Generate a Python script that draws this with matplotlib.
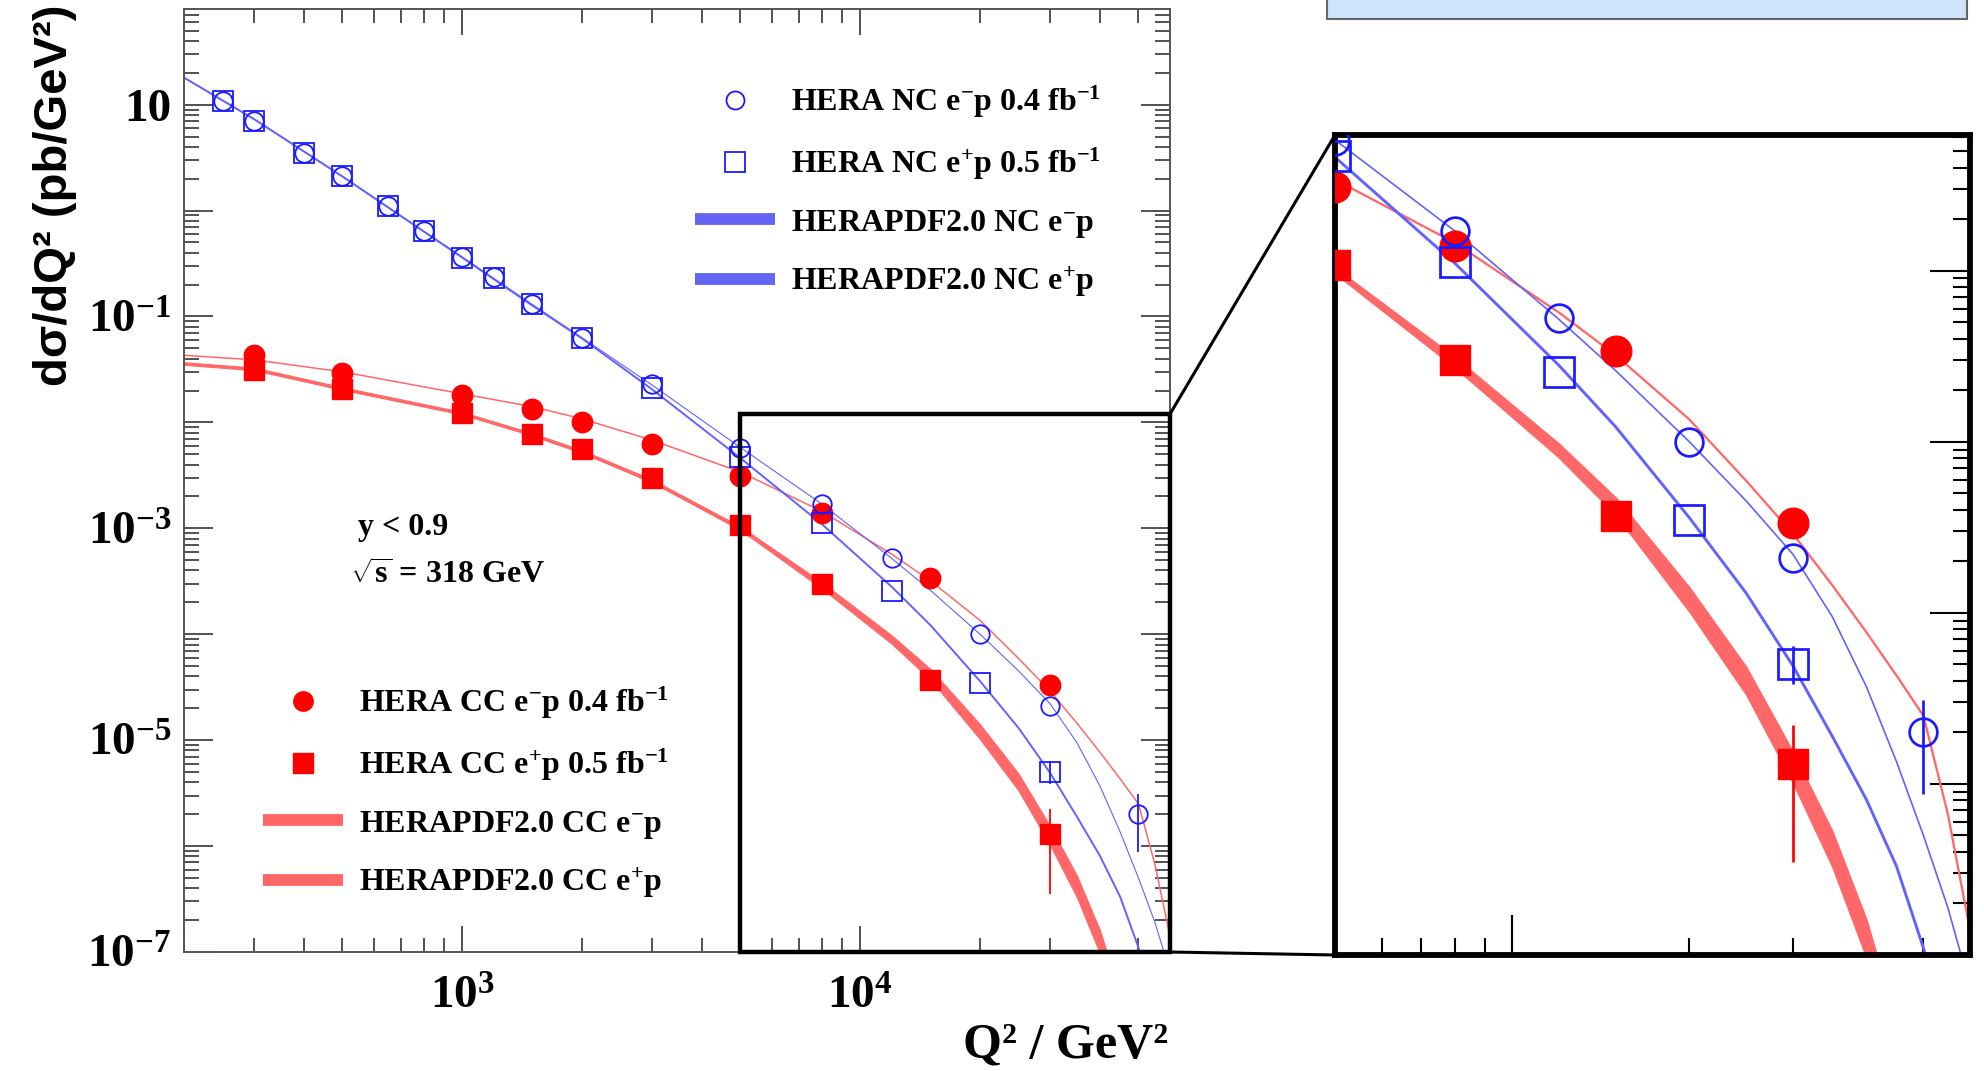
#!/usr/bin/env python3
"""HERA NC/CC dsigma/dQ2 versus Q2, with a zoomed inset of the high-Q2 region."""

import matplotlib

matplotlib.use("Agg")
import matplotlib.pyplot as plt
import numpy as np
from matplotlib.lines import Line2D
from matplotlib.patches import ConnectionPatch, Rectangle
from matplotlib.ticker import FixedLocator, FuncFormatter, LogLocator, NullFormatter

# measured points
nc_em_q2 = [250, 300, 400, 500, 650, 800, 1000, 1200, 1500, 2000, 3000, 5000, 8000, 12000, 20000, 30000, 50000]
nc_em_xs = [10.9, 7.0, 3.53, 2.11, 1.11, 0.647, 0.363, 0.234, 0.131, 0.0624, 0.0232, 5.7e-3, 1.7e-3, 5.25e-4, 1.0e-4, 2.1e-5, 2.0e-6]
nc_em_err_lo = [0] * 16 + [1.13e-6]
nc_em_err_hi = [0] * 16 + [1.09e-6]

nc_ep_q2 = [250, 300, 400, 500, 650, 800, 1000, 1200, 1500, 2000, 3000, 5000, 8000, 12000, 20000, 30000]
nc_ep_xs = [10.9, 7.0, 3.5, 2.1, 1.1, 0.64, 0.36, 0.23, 0.13, 0.062, 0.0209, 4.7e-3, 1.12e-3, 2.56e-4, 3.5e-5, 5.0e-6]
nc_ep_err_lo = [0] * 15 + [1.15e-6]
nc_ep_err_hi = [0] * 15 + [1.4e-6]

cc_em_q2 = [300, 500, 1000, 1500, 2000, 3000, 5000, 8000, 15000, 30000]
cc_em_xs = [0.043, 0.0293, 0.018, 0.0133, 0.0100, 0.0062, 3.1e-3, 1.39e-3, 3.37e-4, 3.35e-5]

cc_ep_q2 = [300, 500, 1000, 1500, 2000, 3000, 5000, 8000, 15000, 30000]
cc_ep_xs = [0.031, 0.0206, 0.0123, 0.0078, 0.0056, 0.0030, 1.08e-3, 3.0e-4, 3.7e-5, 1.3e-6]
cc_ep_err_lo = [0] * 9 + [9.5e-7]
cc_ep_err_hi = [0] * 9 + [9.2e-7]

# HERAPDF2.0 predictions
curve_q2 = [200, 300, 500, 1000, 1500, 2000, 3000, 5000, 8000, 12000, 15000, 20000,
            25000, 30000, 35000, 40000, 45000, 50000, 55000, 60000]
nc_em_curve = [18, 7.3, 2.1, 0.365, 0.13, 0.063, 0.0225, 5.8e-3, 1.7e-3, 5.2e-4, 2.6e-4, 1.0e-4,
               4.5e-5, 2.2e-5, 9.5e-6, 3.7e-6, 1.35e-6, 5.0e-7, 1.9e-7, 6.5e-8]
nc_ep_curve = [18, 7.3, 2.1, 0.36, 0.127, 0.062, 0.0205, 4.6e-3, 1.1e-3, 2.8e-4, 1.22e-4, 3.6e-5,
               1.3e-5, 4.9e-6, 1.9e-6, 8.1e-7, 3.3e-7, 1.1e-7, 3.5e-8, 1e-8]
cc_em_curve = [0.043, 0.039, 0.030, 0.0186, 0.0141, 0.0108, 0.0068, 3.4e-3, 1.45e-3, 5.7e-4, 3.2e-4, 1.35e-4,
               5.9e-5, 2.9e-5, 1.45e-5, 7.7e-6, 4.3e-6, 2.5e-6, 6.7e-7, 1.4e-7]

band_q2 = [200, 300, 500, 1000, 1500, 2000, 3000, 5000, 8000, 12000, 15000, 20000,
           25000, 30000, 35000, 40000, 45000]
cc_ep_band_lo = [0.0350, 0.0311, 0.0203, 0.01187, 0.00749, 0.00514, 0.00271, 0.964e-3, 2.71e-4, 0.812e-4,
                 3.74e-5, 1.02e-5, 3.33e-6, 1.02e-6, 3.3e-7, 0.97e-7, 2.3e-8]
cc_ep_band_hi = [0.0370, 0.0329, 0.0215, 0.01254, 0.00792, 0.00546, 0.00289, 1.04e-3, 3.11e-4, 0.975e-4,
                 4.71e-5, 1.41e-5, 4.81e-6, 1.54e-6, 5.3e-7, 1.61e-7, 4.0e-8]

nc_labels = [
    r"HERA NC e$^{-}$p 0.4 fb$^{-1}$",
    r"HERA NC e$^{+}$p 0.5 fb$^{-1}$",
    r"HERAPDF2.0 NC e$^{-}$p",
    r"HERAPDF2.0 NC e$^{+}$p",
]
cc_labels = [
    r"HERA CC e$^{-}$p 0.4 fb$^{-1}$",
    r"HERA CC e$^{+}$p 0.5 fb$^{-1}$",
    r"HERAPDF2.0 CC e$^{-}$p",
    r"HERAPDF2.0 CC e$^{+}$p",
]

BLUE_MARK = "#1a1aff"
BLUE_LINE = "#6262ff"
RED_MARK = "#ff0000"
RED_LINE = "#ff6868"
FRAME = "#555555"

W, H = 1984, 1071

plt.rcParams["font.family"] = ["Liberation Serif", "DejaVu Serif"]
plt.rcParams["font.weight"] = "bold"
plt.rcParams["mathtext.fontset"] = "custom"
plt.rcParams["mathtext.rm"] = "Liberation Serif:bold"
plt.rcParams["mathtext.it"] = "Liberation Serif:italic:bold"
plt.rcParams["mathtext.bf"] = "Liberation Serif:bold"


def draw_panel(ax, ms, lw):
    ax.fill_between(band_q2, cc_ep_band_lo, cc_ep_band_hi, color=RED_LINE, lw=0.8 * lw, zorder=2)
    ax.plot(curve_q2, cc_em_curve, color=RED_LINE, lw=1.1 * lw, zorder=2)
    ax.plot(curve_q2, nc_ep_curve, color=BLUE_LINE, lw=1.4 * lw, zorder=2)
    ax.plot(curve_q2, nc_em_curve, color=BLUE_LINE, lw=0.8 * lw, zorder=2)

    ax.errorbar(cc_ep_q2, cc_ep_xs, yerr=[cc_ep_err_lo, cc_ep_err_hi], fmt="s", ms=ms,
                color=RED_MARK, mec=RED_MARK, elinewidth=1.3 * lw, capsize=0, zorder=4)
    ax.errorbar(cc_em_q2, cc_em_xs, fmt="o", ms=ms * 1.05, color=RED_MARK, mec=RED_MARK,
                capsize=0, zorder=4)
    ax.errorbar(nc_ep_q2, nc_ep_xs, yerr=[nc_ep_err_lo, nc_ep_err_hi], fmt="s", ms=ms * 1.02,
                mfc="none", mec=BLUE_MARK, mew=1.3 * lw, color=BLUE_MARK,
                elinewidth=1.3 * lw, capsize=0, zorder=5)
    ax.errorbar(nc_em_q2, nc_em_xs, yerr=[nc_em_err_lo, nc_em_err_hi], fmt="o", ms=ms * 0.95,
                mfc="none", mec=BLUE_MARK, mew=1.3 * lw, color=BLUE_MARK,
                elinewidth=1.3 * lw, capsize=0, zorder=5)


def y_tick_label(value, _pos):
    power = int(round(np.log10(value)))
    if power % 2 == 0:
        return ""
    if power == 1:
        return "10"
    return rf"$10^{{{power}}}$"


def x_tick_label(value, _pos):
    return rf"$10^{{{int(round(np.log10(value)))}}}$"


def set_log_ticks(ax):
    ax.xaxis.set_major_locator(FixedLocator([1e3, 1e4]))
    ax.xaxis.set_minor_locator(LogLocator(base=10, subs=np.arange(2, 10), numticks=100))
    ax.yaxis.set_major_locator(LogLocator(base=10, subs=(1.0,), numticks=100))
    ax.yaxis.set_minor_locator(LogLocator(base=10, subs=np.arange(2, 10), numticks=100))
    ax.xaxis.set_minor_formatter(NullFormatter())
    ax.yaxis.set_minor_formatter(NullFormatter())


def main() -> None:
    fig = plt.figure(figsize=(W / 100, H / 100), dpi=100)
    ax = fig.add_axes([184 / W, 1 - 952 / H, (1170 - 184) / W, (952 - 9) / H])
    axins = fig.add_axes([1335 / W, 1 - 955 / H, (1970 - 1335) / W, (955 - 135) / H])

    # main panel
    ax.set_xscale("log")
    ax.set_yscale("log")
    draw_panel(ax, ms=14, lw=1.0)
    ax.set_xlim(200, 60000)
    ax.set_ylim(1e-7, 80)
    set_log_ticks(ax)
    ax.xaxis.set_major_formatter(FuncFormatter(x_tick_label))
    ax.yaxis.set_major_formatter(FuncFormatter(y_tick_label))
    ax.tick_params(which="both", direction="in", top=True, right=True, color="#333333", width=1.2,
                   labelsize=34)
    ax.tick_params(axis="y", which="major", length=21, pad=9)
    ax.tick_params(axis="y", which="minor", length=11)
    ax.tick_params(axis="x", which="major", length=19, pad=18)
    ax.tick_params(axis="x", which="minor", length=10)
    for spine in ax.spines.values():
        spine.set_color(FRAME)
        spine.set_linewidth(1.4)

    # zoom box and connectors
    ax.add_patch(Rectangle((5000, 1e-7), 60000 - 5000, 0.012 - 1e-7, fill=False, ec="black",
                           lw=3.2, zorder=8, clip_on=False))
    for xy_main, xy_ins in [((60000, 0.012), (0, 1)), ((60000, 1e-7), (0, 0))]:
        con = ConnectionPatch(xyA=xy_main, coordsA="data", axesA=ax,
                              xyB=xy_ins, coordsB="axes fraction", axesB=axins,
                              color="black", lw=2.2)
        fig.add_artist(con)

    # legends
    nc_handles = [
        Line2D([], [], ls="none", marker="o", ms=13, mfc="none", mec=BLUE_MARK, mew=1.3),
        Line2D([], [], ls="none", marker="s", ms=14, mfc="none", mec=BLUE_MARK, mew=1.3),
        Line2D([], [], color="#6464f5", lw=8.5, solid_capstyle="butt"),
        Line2D([], [], color="#6464f5", lw=8.5, solid_capstyle="butt"),
    ]
    cc_handles = [
        Line2D([], [], ls="none", marker="o", ms=14, color=RED_MARK),
        Line2D([], [], ls="none", marker="s", ms=14, color=RED_MARK),
        Line2D([], [], color="#ff6666", lw=8.5, solid_capstyle="butt"),
        Line2D([], [], color="#ff6666", lw=8.5, solid_capstyle="butt"),
    ]
    leg_kw = dict(frameon=False, fontsize=23, handlelength=2.5, handletextpad=0.5,
                  labelspacing=0.8, borderpad=0, borderaxespad=0, loc="upper left",
                  bbox_transform=fig.transFigure)
    leg1 = ax.legend(nc_handles, nc_labels, bbox_to_anchor=(695 / W, 1 - 84 / H), **leg_kw)
    ax.add_artist(leg1)
    ax.legend(cc_handles, cc_labels, bbox_to_anchor=(263 / W, 1 - 685 / H), **leg_kw)

    ax.text(358 / W, 1 - 528 / H, "y < 0.9", transform=fig.transFigure, fontsize=23, va="center")
    ax.text(350 / W, 1 - 576 / H, r"$\sqrt{\mathrm{s}}$ = 318 GeV", transform=fig.transFigure,
            fontsize=23, va="center")

    fig.text(55 / W, 1 - 5 / H, "dσ/dQ² (pb/GeV²)", rotation=90, ha="center", va="top",
             fontsize=34, family=["Liberation Sans", "DejaVu Sans"], weight="bold")
    fig.text(1168 / W, 1 - 1046 / H, "Q² / GeV²", ha="right", va="center", fontsize=36)

    # inset panel
    axins.set_xscale("log")
    axins.set_yscale("log")
    draw_panel(axins, ms=21, lw=1.5)
    axins.set_xlim(5000, 60000)
    axins.set_ylim(1e-7, 6.2e-3)
    set_log_ticks(axins)
    axins.tick_params(which="both", direction="in", left=False, top=False, right=True, bottom=True,
                      labelleft=False, labelbottom=False, color="black", width=1.5)
    axins.tick_params(which="major", length=29)
    axins.tick_params(which="minor", length=12)
    for spine in axins.spines.values():
        spine.set_color("black")
        spine.set_linewidth(4.2)

    # strip of the panel above
    fig.add_artist(Rectangle((1327 / W, 1 - 19 / H), (1967 - 1327) / W, 40 / H,
                             transform=fig.transFigure, fc="#cde4fa", ec="#666666", lw=1.5))

    fig.savefig("out.png", dpi=100)
    plt.close(fig)


if __name__ == "__main__":
    main()
